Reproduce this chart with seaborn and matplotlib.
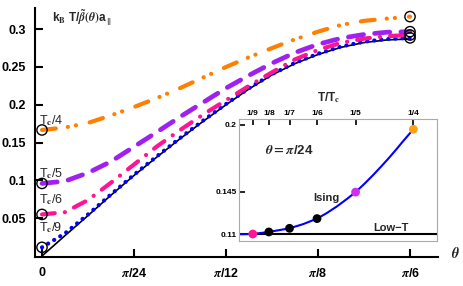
import numpy as np
import pandas as pd
import matplotlib
matplotlib.use("Agg")
import matplotlib.pyplot as plt
import seaborn as sns

# ---------------- data ----------------
theta_k = list(range(17))               # theta = k * pi/96
low_T  = [0, 0.027, 0.0535, 0.0805, 0.1065, 0.131, 0.155, 0.178, 0.200, 0.221,
          0.2395, 0.2545, 0.2665, 0.276, 0.2823, 0.2858, 0.287]
tc9    = [0.0115, 0.030, 0.055, 0.0815, 0.1075, 0.132, 0.156, 0.179, 0.201,
          0.222, 0.2405, 0.2555, 0.2675, 0.277, 0.2835, 0.287, 0.2885]
tc6    = [0.055, 0.058, 0.074, 0.097, 0.121, 0.145, 0.1665, 0.187, 0.206, 0.225,
          0.243, 0.260, 0.2725, 0.282, 0.2875, 0.2908, 0.2923]
tc5    = [0.096, 0.099, 0.110, 0.125, 0.1445, 0.164, 0.184, 0.203, 0.222, 0.239,
          0.255, 0.269, 0.280, 0.288, 0.293, 0.296, 0.2967]
tc4    = [0.1667, 0.170, 0.176, 0.186, 0.197, 0.209, 0.222, 0.236, 0.250, 0.263,
          0.275, 0.2866, 0.2967, 0.3056, 0.311, 0.314, 0.3166]

main_xticks = [0, 1/24, 1/12, 1/8, 1/6]            # in units of pi
main_xticklabels = ["0", r"$\pi$/24", r"$\pi$/12", r"$\pi$/8", r"$\pi$/6"]
main_yticks = [0.05, 0.1, 0.15, 0.2, 0.25, 0.3]
main_yticklabels = ["0.05", "0.1", "0.15", "0.2", "0.25", "0.3"]

# inset (theta = pi/24)
inset_T = [1/9, 1/8, 1/7, 1/6, 1/5, 1/4]
inset_v = [0.1102, 0.1119, 0.1149, 0.1229, 0.1447, 0.1965]
inset_kind = ["t9", "t8", "t7", "t6", "t5", "t4"]
ising_T = [0.0995, 0.1111, 0.125, 0.1429, 0.1548, 0.1667, 0.175, 0.1838, 0.192,
           0.2, 0.208, 0.2154, 0.2225, 0.2299, 0.236, 0.2414, 0.25]
ising_v = [0.110, 0.1102, 0.1119, 0.1149, 0.1184, 0.1229, 0.1274, 0.1329, 0.1387,
           0.1447, 0.1519, 0.159, 0.1662, 0.174, 0.1808, 0.187, 0.1965]
inset_xticks = [1/9, 1/8, 1/7, 1/6, 1/5, 1/4]
inset_xticklabels = ["1/9", "1/8", "1/7", "1/6", "1/5", "1/4"]
inset_yticks = [0.11, 0.145, 0.2]
inset_yticklabels = ["0.11", "0.145", "0.2"]
lowT_level = [0.110, 0.110]
lowT_T = [0.0995, 0.2702]

# ---------------- style ----------------
sns.set_theme(style="ticks")
plt.rcParams["font.family"] = ["Liberation Sans", "DejaVu Sans"]
plt.rcParams["font.weight"] = "bold"
plt.rcParams["mathtext.fontset"] = "stix"
plt.rcParams["lines.scale_dashes"] = False

theta = np.array(theta_k) * np.pi / 96
df = pd.DataFrame({"theta": theta, "low": low_T, "t9": tc9, "t6": tc6,
                   "t5": tc5, "t4": tc4})

fig = plt.figure(figsize=(4.63, 2.86), dpi=100)
ax = fig.add_axes([0.0756, 0.1014, 0.8704, 0.8706])

sns.lineplot(data=df, x="theta", y="low", ax=ax, color="black", linewidth=1.2, sort=False)
sns.lineplot(data=df, x="theta", y="t9", ax=ax, color="#0000ff", linewidth=3.0,
             linestyle=(0, (0.1, 5.0)), dash_capstyle="round", sort=False)
sns.lineplot(data=df, x="theta", y="t6", ax=ax, color="#ff1493", linewidth=3.0,
             linestyle=(0, (9.2, 7.3, 0.1, 7.3)), dash_capstyle="round", sort=False)
sns.lineplot(data=df, x="theta", y="t5", ax=ax, color="#a020f0", linewidth=3.4,
             linestyle=(0, (11, 8)), dash_capstyle="round", sort=False)
sns.lineplot(data=df, x="theta", y="t4", ax=ax, color="#ff7f00", linewidth=3.0,
             linestyle=(0, (10, 8.7, 0.1, 5.8, 0.1, 10.1)), dash_capstyle="round",
             sort=False)

# hollow circles at ends
for col in ["t9", "t6", "t5", "t4"]:
    ax.scatter([df["theta"].iloc[0], df["theta"].iloc[-1]],
               [df[col].iloc[0], df[col].iloc[-1]],
               s=55, facecolors="none", edgecolors="black", linewidths=1.0, zorder=5)

ax.set_xlim(-0.00996, 0.5634)
ax.set_ylim(-0.0013, 0.328)
ax.set_xticks(np.array(main_xticks) * np.pi)
ax.set_xticklabels(main_xticklabels, fontsize=9, fontweight="bold")
ax.set_yticks(main_yticks)
ax.set_yticklabels(main_yticklabels, fontsize=9, fontweight="bold")
ax.set_xlabel("")
ax.set_ylabel("")
ax.tick_params(direction="in", length=6, width=1.5, colors="black")
ax.tick_params(axis="y", pad=6.5)
ax.tick_params(axis="x", pad=7)
for s in ["top", "right"]:
    ax.spines[s].set_visible(False)
for s in ["left", "bottom"]:
    ax.spines[s].set_linewidth(1.5)
    ax.spines[s].set_color("black")

fig.text(52/463, 1-18/286, r"k$_\mathrm{B}$ T/$\tilde{\beta}(\theta)$a$_\parallel$",
         fontsize=8.5, fontweight="bold", va="center", ha="left")
fig.text(455/463, 1-253/286, r"$\theta$", fontsize=10, va="center", ha="center")
for txt, y in [(r"T$_\mathrm{c}$/4", 121), (r"T$_\mathrm{c}$/5", 174),
               (r"T$_\mathrm{c}$/6", 200), (r"T$_\mathrm{c}$/9", 228)]:
    fig.text(39/463, 1-y/286, txt, fontsize=9, fontweight="normal",
             va="center", ha="left")

# ---------------- inset ----------------
ins = fig.add_axes([0.517, 0.1584, 0.4263, 0.4245])
sns.lineplot(x=lowT_T, y=lowT_level, ax=ins, color="black", linewidth=1.5)
sns.lineplot(x=ising_T, y=ising_v, ax=ins, color="#0000ff", linewidth=1.5, sort=False)
pal = {"t9": "#ff1493", "t8": "black", "t7": "black", "t6": "black",
       "t5": "#d02ef0", "t4": "#ffa010"}
sns.scatterplot(x=inset_T, y=inset_v, hue=inset_kind, palette=pal, ax=ins,
                s=40, edgecolor="none", legend=False, zorder=5)
ins.set_xlim(0.0995, 0.2702)
ins.set_ylim(0.1047, 0.2047)
ins.xaxis.tick_top()
ins.set_xticks(inset_xticks)
ins.set_xticklabels(inset_xticklabels, fontsize=6, fontweight="bold")
ins.set_yticks(inset_yticks)
ins.set_yticklabels(inset_yticklabels, fontsize=6, fontweight="bold")
ins.tick_params(direction="in", length=4, width=1.2, colors="black", pad=2)
for s in ins.spines.values():
    s.set_color("#aaaaaa")
    s.set_linewidth(0.8)
ins.set_xlabel("")
ins.set_ylabel("")
fig.text(329/463, 1-98/286, r"T/T$_\mathrm{c}$", fontsize=8.5, fontweight="bold",
         ha="center", va="center")
fig.text(289/463, 1-150/286, r"$\theta=\pi$/24", fontsize=9.5, fontweight="bold",
         ha="center", va="center")
fig.text(326/463, 1-198/286, "Ising", fontsize=8, fontweight="bold", ha="center", va="center")
fig.text(391/463, 1-228/286, "Low\u2212T", fontsize=8, fontweight="bold", ha="center", va="center")

fig.savefig("out.png", dpi=100)
